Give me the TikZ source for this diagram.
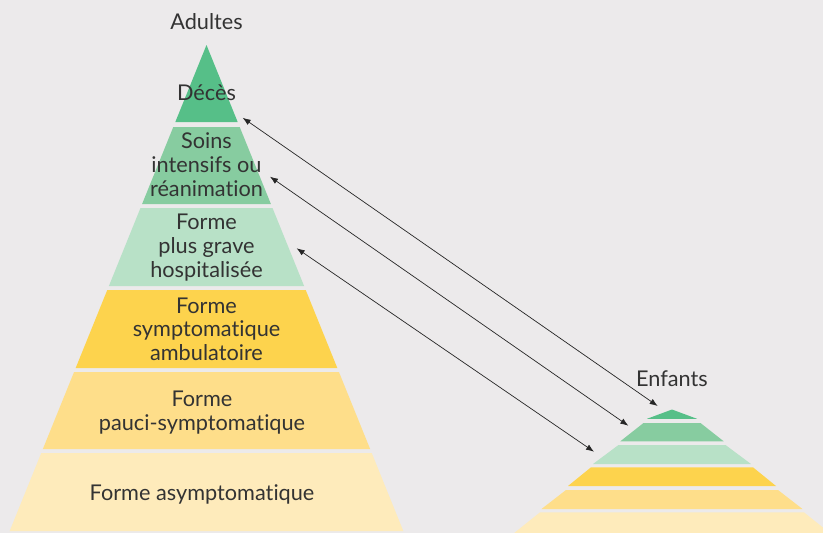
\documentclass[tikz,border=0pt]{standalone}
\usepackage{fontspec}
\setmainfont{Lato}[Ligatures={NoCommon}]
\usetikzlibrary{shapes,arrows.meta}

\definecolor{bg}{HTML}{ECEAEB}
\definecolor{txt}{HTML}{333333}
\definecolor{lvlA}{HTML}{56BF88}
\definecolor{lvlB}{HTML}{87CCA0}
\definecolor{lvlC}{HTML}{B8E1C7}
\definecolor{lvlD}{HTML}{FDD34D}
\definecolor{lvlE}{HTML}{FEDE8A}
\definecolor{lvlF}{HTML}{FEEBBB}

\tikzset{
  layertext/.style={text=txt, align=center, inner sep=0pt, font=\fontsize{21.7}{23.7}\selectfont},
  link/.style={arrows={Latex[length=8pt,width=6pt]-Latex[length=8pt,width=6pt]}, line width=0.7pt, draw=black!85}
}

\begin{document}
\begin{tikzpicture}[x=1pt,y=-1pt]
\fill[bg] (0,0) rectangle (823,533);
\useasboundingbox (0,0) rectangle (823,533);
\clip (0,0) rectangle (823,533);
% adults
\foreach \ya/\yb/\col in {45/122/lvlA, 127/204/lvlB, 208/286/lvlC, 290/368/lvlD, 372/449/lvlE, 453/531/lvlF} {
    \fill[\col] ({206.5-0.405*(\ya-45)},\ya) -- ({206.5+0.405*(\ya-45)},\ya) -- ({206.5+0.405*(\yb-45)},\yb) -- ({206.5-0.405*(\yb-45)},\yb) -- cycle;
}
% children
\foreach \ya/\wa/\yb/\wb/\col in {409.5/0/418.8/25/lvlA, 423/28.5/441.3/51.7/lvlB, 445/53.5/464/79/lvlC, 467.3/81/486/104/lvlD, 490/106/509/130.5/lvlE, 512.3/132/533/157.8/lvlF} {
    \fill[\col] ({672-\wa},\ya) -- ({672+\wa},\ya) -- ({672+\wb},\yb) -- ({672-\wb},\yb) -- cycle;
}
\node[layertext, anchor=base] (adultes) at (206.5,29.3) {Adultes};
\node[layertext, anchor=base] (enfants) at (672,386) {Enfants};
\node[layertext, anchor=base] (deces) at (206.5,100) {Décès};
\node[layertext] (soins) at (206.5,164.5) {Soins\\intensifs ou\\réanimation};
\node[layertext] (grave) at (206.5,247.4) {Forme\\plus grave\\hospitalisée};
\node[layertext] (ambu) at (206.5,329.3) {Forme\\symptomatique\\ambulatoire};
\node[layertext] (pauci) at (202,412.5) {Forme\\pauci-symptomatique};
\node[layertext, anchor=base] (asympto) at (202,500.7) {Forme asymptomatique};
% links between the two pyramids
\coordinate (a1) at (242.7,117.8);
\coordinate (b1) at (657.7,406);
\coordinate (a2) at (270,176.7);
\coordinate (b2) at (628.3,425.7);
\coordinate (a3) at (296.7,248.3);
\coordinate (b3) at (594,451.7);
\foreach \i in {1,2,3} {
    \draw[link] (a\i) -- (b\i);
}
\end{tikzpicture}
\end{document}
